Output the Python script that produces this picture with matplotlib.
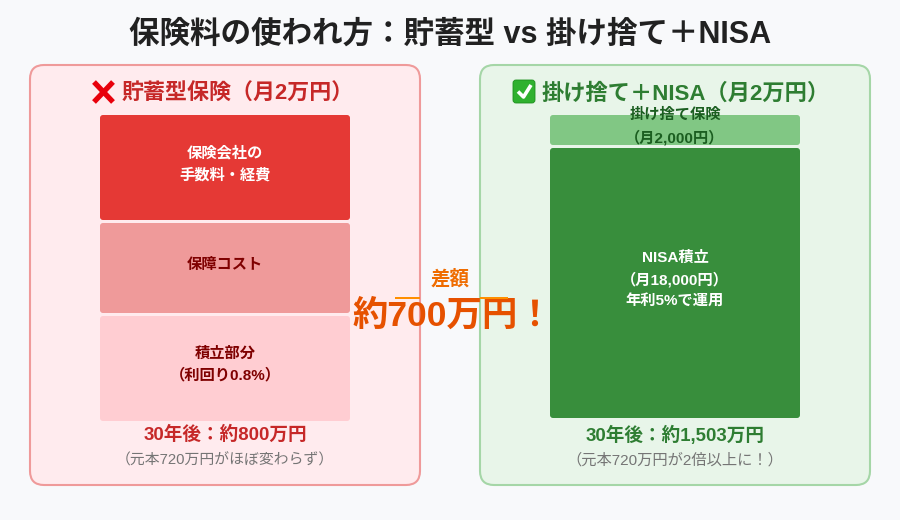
import matplotlib
matplotlib.use("Agg")
import matplotlib.pyplot as plt
from matplotlib.patches import FancyBboxPatch, Rectangle

plt.rcParams['font.family'] = ['Liberation Sans', 'Noto Sans CJK JP', 'DejaVu Sans']

title = "保険料の使われ方：貯蓄型 vs 掛け捨て＋NISA"

left_title = "貯蓄型保険（月2万円）"
left_values = [35, 30, 35]
left_labels = ["保険会社の\n手数料・経費", "保障コスト", "積立部分\n（利回り0.8%）"]
left_result = "30年後：約800万円"
left_note = "（元本720万円がほぼ変わらず）"

right_title = "掛け捨て＋NISA（月2万円）"
right_values = [10, 90]
right_labels = ["掛け捨て保険\n（月2,000円）", "NISA積立\n（月18,000円）\n年利5%で運用"]
right_result = "30年後：約1,503万円"
right_note = "（元本720万円が2倍以上に！）"

diff_label = "差額"
diff_value = "約700万円！"

BG = "#f8f9fb"
PX = 3  # one percent of a stack is 3 px


def panel(ax, x, fill, edge):
    ax.add_patch(FancyBboxPatch((x + 14, 65 + 14), 362, 392, boxstyle="round,pad=14,rounding_size=14",
                                fc=fill, ec=edge, lw=1.5, zorder=1))


def stack(ax, x, values, labels, colors, text_colors):
    y = 115
    for v, lab, c, tc in zip(values, labels, colors, text_colors):
        h = v * PX
        ax.add_patch(FancyBboxPatch((x + 3, y + 3), 244, h - 6, boxstyle="round,pad=3,rounding_size=3",
                                    fc=c, ec="none", zorder=2))
        ax.text(x + 125, y + h / 2 - 3.5, lab, ha="center", va="center", fontsize=11, fontweight="bold",
                color=tc, linespacing=1.6, zorder=3)
        y += h + 3


fig = plt.figure(figsize=(9, 5.2), dpi=100, facecolor=BG)
ax = fig.add_axes([0, 0, 1, 1])
ax.set_xlim(0, 900)
ax.set_ylim(520, 0)
ax.axis("off")

ax.text(450, 35, title, ha="center", va="center", fontsize=22, fontweight="bold", color="#212121")

panel(ax, 30, "#ffebee", "#ef9a9a")
panel(ax, 480, "#e8f5e9", "#a5d6a7")

# left column
ax.plot([94, 113], [82, 102], color="#e8000b", lw=3.8, solid_capstyle="butt", zorder=3)
ax.plot([113, 94], [82, 102], color="#e8000b", lw=3.8, solid_capstyle="butt", zorder=3)
ax.text(238, 94, left_title, ha="center", va="center", fontsize=15.8, fontweight="bold", color="#c62828", zorder=3)
stack(ax, 100, left_values, left_labels, ["#e53935", "#ef9a9a", "#ffcdd2"], ["white", "#7f0000", "#7f0000"])
ax.text(225, 435, left_result, ha="center", va="center", fontsize=13.4, fontweight="bold", color="#c62828", zorder=3)
ax.text(225, 460, left_note, ha="center", va="center", fontsize=10.7, color="#757575", zorder=3)

# right column
ax.add_patch(FancyBboxPatch((515, 82), 18, 19, boxstyle="round,pad=2,rounding_size=3",
                            fc="#2fb12f", ec="#1d8f1d", lw=0.6, zorder=3))
ax.plot([518, 523.5, 531], [91.5, 97, 85], color="white", lw=2.6, solid_capstyle="butt", zorder=4)
ax.text(686, 94, right_title, ha="center", va="center", fontsize=16, fontweight="bold", color="#2e7d32", zorder=3)
stack(ax, 550, right_values, right_labels, ["#81c784", "#388e3c"], ["#1b5e20", "white"])
ax.text(675, 435, right_result, ha="center", va="center", fontsize=13.4, fontweight="bold", color="#2e7d32", zorder=3)
ax.text(675, 460, right_note, ha="center", va="center", fontsize=11, color="#757575", zorder=3)

# difference callout
ax.text(450, 279, diff_label, ha="center", va="center", fontsize=14, fontweight="bold", color="#ef6c00", zorder=5)
ax.text(452.5, 316, diff_value, ha="center", va="center", fontsize=25.5, fontweight="bold", color="#e65100", zorder=5)
ax.add_patch(Rectangle((395, 297), 25, 2, fc="#ff8f00", ec="none", zorder=6))
ax.add_patch(Rectangle((480, 297), 28, 2, fc="#ff8f00", ec="none", zorder=6))

fig.savefig("out.png", dpi=100, facecolor=BG)
